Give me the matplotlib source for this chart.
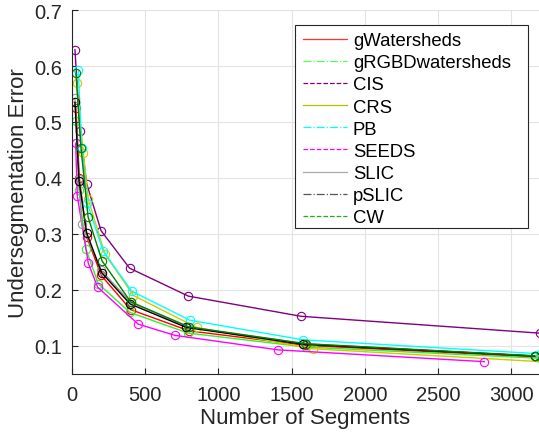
import matplotlib
matplotlib.use("Agg")
import matplotlib.pyplot as plt
from matplotlib.lines import Line2D
from matplotlib.patches import Rectangle

plt.rcParams['font.family'] = ['Liberation Sans', 'DejaVu Sans']

names = ["gWatersheds", "gRGBDwatersheds", "CIS", "CRS", "PB", "SEEDS", "SLIC", "pSLIC", "CW"]

gws_x = [27, 50, 100, 200, 400, 800, 1600, 3200]
gws_y = [0.525, 0.400, 0.295, 0.226, 0.165, 0.127, 0.101, 0.080]

grgbd_x = [27, 48, 95, 180, 395, 793, 1600, 3200]
grgbd_y = [0.501, 0.378, 0.273, 0.211, 0.160, 0.123, 0.098, 0.078]

cis_x = [20, 55, 100, 198, 393, 795, 1565, 3200]
cis_y = [0.629, 0.484, 0.390, 0.306, 0.239, 0.189, 0.153, 0.1228]

crs_x = [32, 77, 111, 225, 420, 852, 1645, 3300]
crs_y = [0.569, 0.445, 0.362, 0.264, 0.190, 0.133, 0.095, 0.0705]

pb_x = [43, 66, 104, 212, 407, 805, 1577, 3200]
pb_y = [0.593, 0.453, 0.355, 0.270, 0.198, 0.146, 0.111, 0.086]

seeds_x = [25, 36, 111, 175, 452, 702, 1409, 2816]
seeds_y = [0.462, 0.368, 0.248, 0.205, 0.139, 0.119, 0.093, 0.072]

slic_x = [20, 48, 66, 200, 400, 790, 1580, 3160]
slic_y = [0.542, 0.398, 0.318, 0.235, 0.178, 0.134, 0.104, 0.082]

pslic_x = [20, 48, 100, 202, 397, 782, 1580, 3160]
pslic_y = [0.535, 0.395, 0.302, 0.231, 0.175, 0.133, 0.103, 0.082]

cw_x = [27, 61, 110, 205, 400, 800, 1600, 3160]
cw_y = [0.587, 0.454, 0.330, 0.252, 0.179, 0.134, 0.104, 0.0825]

series = [(gws_x, gws_y), (grgbd_x, grgbd_y), (cis_x, cis_y), (crs_x, crs_y),
          (pb_x, pb_y), (seeds_x, seeds_y), (slic_x, slic_y), (pslic_x, pslic_y), (cw_x, cw_y)]

colors = ["#ff0000", "#33ee33", "#800080", "#cccc00", "#00ffff", "#ff00ff", "#999999", "#000000", "#007f00"]
leg_colors = ["#ff3333", "#55ff55", "#800080", "#bbbb00", "#00ffff", "#ff00ff", "#aaaaaa", "#555555", "#22aa22"]
leg_styles = ["-", "-.", "--", "-", "-.", "--", "-", "-.", "--"]

fig = plt.figure(figsize=(5.39, 4.35), dpi=100)
ax = fig.add_axes([0.1336, 0.138, 0.8664, 0.8367])

for (x, y), c in zip(series, colors):
    ax.plot(x, y, '-', color=c, lw=1.0, marker='o', ms=6, mfc='none', mew=0.8, clip_on=True)

ax.set_xlim(0, 3190)
ax.set_ylim(0.05, 0.7)
ax.set_xticks([0, 500, 1000, 1500, 2000, 2500, 3000])
ax.set_yticks([0.1, 0.2, 0.3, 0.4, 0.5, 0.6, 0.7])
ax.grid(True, color='#e3e3e3', lw=0.8)
ax.set_axisbelow(True)
for s in ['top', 'right']:
    ax.spines[s].set_visible(False)
for s in ['left', 'bottom']:
    ax.spines[s].set_color('#262626')
    ax.spines[s].set_linewidth(0.8)
ax.tick_params(direction='in', length=4, width=0.8, color='#262626', labelcolor='#262626', labelsize=14.5)
ax.tick_params(axis='x', pad=8)
ax.tick_params(axis='y', pad=7)
ax.set_xlabel("Number of Segments", fontsize=16, color='#262626', labelpad=2)
ax.set_ylabel("Undersegmentation Error", fontsize=16, color='#262626', labelpad=4)

# legend box
W, H = 539.0, 435.0
box = Rectangle((295 / W, 1 - 229.3 / H), 233 / W, (229.3 - 25.7) / H, transform=fig.transFigure,
                facecolor='white', edgecolor='#262626', lw=0.8, zorder=5)
fig.patches.append(box)

handles = [Line2D([0], [0], color=c, ls=ls, lw=0.9) for c, ls in zip(leg_colors, leg_styles)]
leg = fig.legend(handles, names, loc='upper left', bbox_to_anchor=(303 / W, 1 - 33.0 / H),
                 bbox_transform=fig.transFigure, borderaxespad=0, borderpad=0,
                 fontsize=13.3, frameon=False,
                 handlelength=2.4, handletextpad=0.3, labelspacing=0.28)
leg.set_zorder(6)

fig.savefig("out.png", dpi=100)
